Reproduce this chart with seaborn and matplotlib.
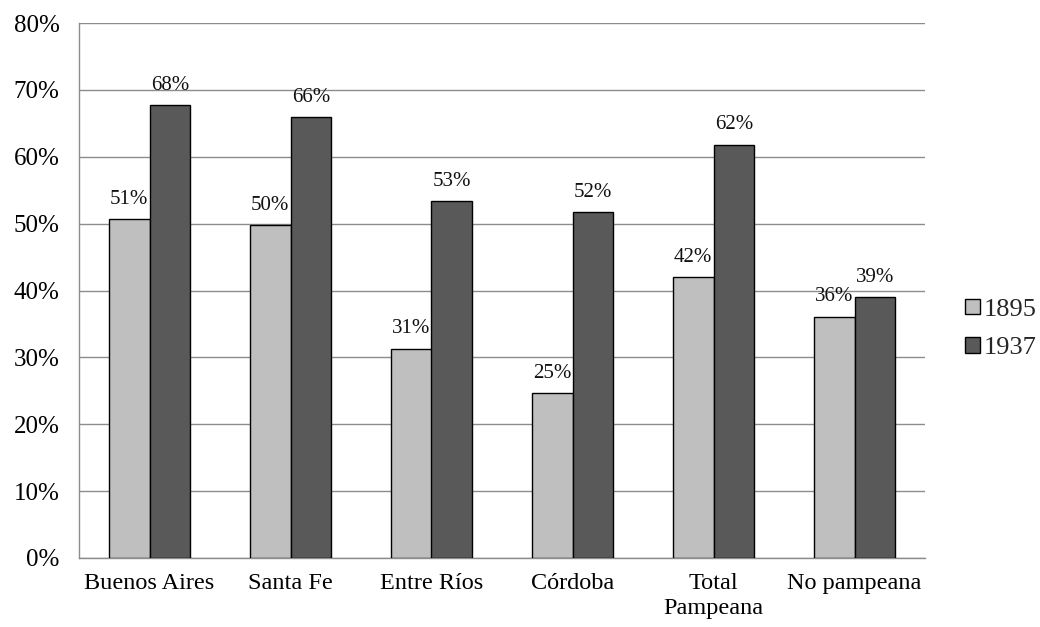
import matplotlib
matplotlib.use("Agg")
import matplotlib.pyplot as plt
import seaborn as sns
import pandas as pd
from matplotlib.ticker import PercentFormatter, MultipleLocator

# Share of the population by region, two census years
regions = ["Buenos Aires", "Santa Fe", "Entre Ríos", "Córdoba", "Total\nPampeana", "No pampeana"]
years = ["1895", "1937"]
share_1895 = [0.507, 0.498, 0.313, 0.247, 0.420, 0.361]
share_1937 = [0.677, 0.659, 0.534, 0.517, 0.618, 0.390]

df = pd.DataFrame({
    "region": regions * 2,
    "year": [years[0]] * len(regions) + [years[1]] * len(regions),
    "share": share_1895 + share_1937,
})

sns.set_theme(style="white")
plt.rcParams["font.family"] = ["Liberation Serif", "DejaVu Serif"]

light, dark = "#BFBFBF", "#595959"
grid_col = "#8C8C8C"

fig = plt.figure(figsize=(10.4, 6.27), dpi=100)
ax = fig.add_axes([79 / 1040, 1 - 558 / 627, (925 - 79) / 1040, (558 - 23) / 627])

sns.barplot(data=df, x="region", y="share", hue="year", hue_order=years,
            order=regions, palette=[light, dark], width=0.575, gap=0,
            edgecolor="black", linewidth=1.0, ax=ax, legend=True, zorder=3)

ax.set_ylim(0, 0.8)
ax.set_xlim(-0.5, len(regions) - 0.5)
ax.yaxis.set_major_locator(MultipleLocator(0.1))
ax.yaxis.set_major_formatter(PercentFormatter(1.0, decimals=0))
ax.grid(axis="y", color=grid_col, linewidth=1.0, zorder=0)
ax.set_axisbelow(True)

for side in ["top", "right"]:
    ax.spines[side].set_visible(False)
for side in ["left", "bottom"]:
    ax.spines[side].set_color(grid_col)
    ax.spines[side].set_linewidth(1.0)

ax.set_xlabel("")
ax.set_ylabel("")
ax.tick_params(axis="y", labelsize=18, pad=14, length=0, colors="black")
ax.tick_params(axis="x", labelsize=17.5, pad=11, length=0, colors="black")
for t in ax.get_xticklabels():
    t.set_linespacing(1.25)

# Value labels above each bar
for container, vals in zip(ax.containers, [share_1895, share_1937]):
    for bar, v in zip(container, vals):
        ax.annotate(f"{round(v * 100):.0f}%",
                    (bar.get_x() + bar.get_width() / 2, v),
                    xytext=(0, 11), textcoords="offset points",
                    ha="center", va="baseline", fontsize=15, color="#111111")

handles, labels = ax.get_legend_handles_labels()
ax.legend(handles, labels, loc="center left", bbox_to_anchor=(965 / 1040, 1 - 329 / 627),
          bbox_transform=fig.transFigure, frameon=False, fontsize=19,
          handlelength=0.55, handleheight=0.55, handletextpad=0.15,
          labelspacing=0.62, borderaxespad=0, borderpad=0)

fig.savefig("out.png", dpi=100)
